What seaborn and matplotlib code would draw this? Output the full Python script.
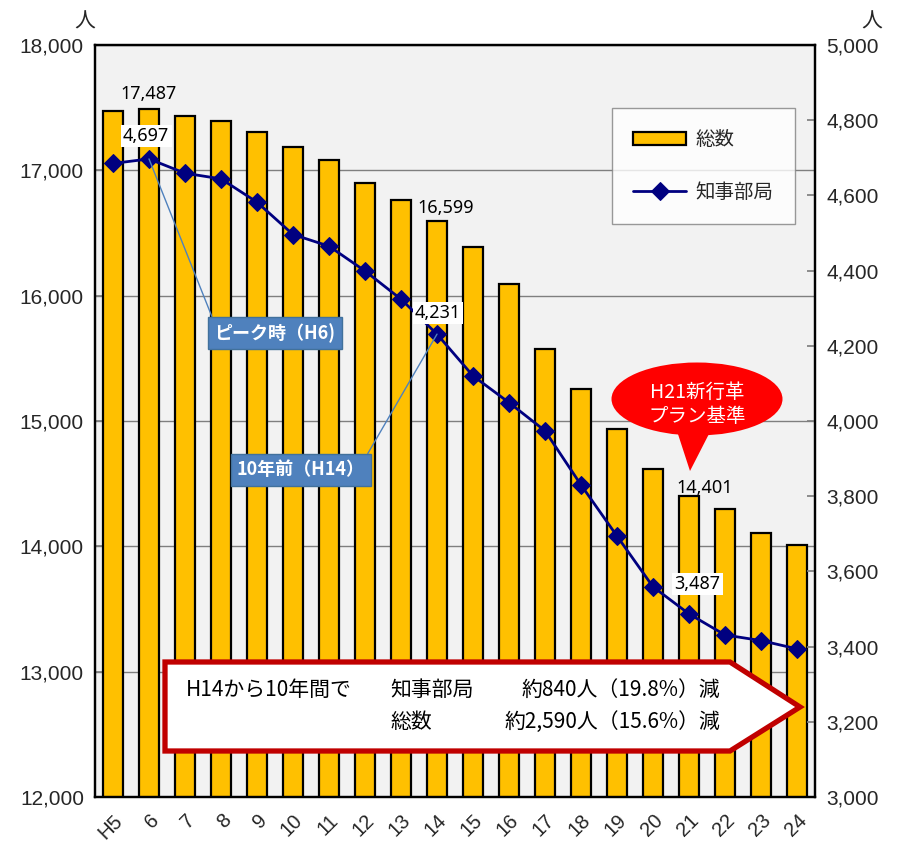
import numpy as np
import pandas as pd
import matplotlib
matplotlib.use("Agg")
import matplotlib.pyplot as plt
import seaborn as sns
from matplotlib.patches import Ellipse, Polygon

# ---- data -------------------------------------------------------------
years = ["H5", "6", "7", "8", "9", "10", "11", "12", "13", "14",
         "15", "16", "17", "18", "19", "20", "21", "22", "23", "24"]
total_staff = [17470, 17487, 17430, 17390, 17305, 17190, 17085, 16898, 16765, 16599,
               16385, 16090, 15575, 15252, 14933, 14615, 14401, 14300, 14105, 14010]
governor_dept = [4685, 4697, 4659, 4644, 4582, 4496, 4465, 4399, 4324, 4231,
                 4120, 4049, 3974, 3830, 3694, 3559, 3487, 3431, 3416, 3394]
left_ticks = [12000, 13000, 14000, 15000, 16000, 17000, 18000]
right_ticks = [3000, 3200, 3400, 3600, 3800, 4000, 4200, 4400, 4600, 4800, 5000]
series_names = ["総数", "知事部局"]

# total labels and dept labels shown on the chart (index into years)
total_label_idx = [1, 9, 16]
dept_label_idx = [1, 9, 16]

df = pd.DataFrame({"year": years, "total": total_staff, "dept": governor_dept})
df["pos"] = np.arange(len(df))

# ---- style ------------------------------------------------------------
sns.set_theme(style="white")
plt.rcParams["font.family"] = ["Noto Sans CJK JP", "DejaVu Sans"]

W, H = 899, 843
fig = plt.figure(figsize=(W / 100, H / 100), dpi=100)
ax = fig.add_axes([95 / W, 1 - 797 / H, 720 / W, 752 / H])
ax.set_facecolor("#F2F2F2")

BAR = "#FFC000"
NAVY = "#000080"

sns.barplot(data=df, x="year", y="total", color=BAR, saturation=1,
            edgecolor="black", linewidth=1.6, width=0.58, ax=ax, zorder=2)
ax.set_ylim(12000, 18000)
ax.set_yticks(left_ticks)
ax.set_yticklabels([f"{v:,}" for v in left_ticks], fontsize=15,
                   fontfamily="Liberation Sans")
ax.yaxis.grid(True, color="#7F7F7F", linewidth=1.0)
ax.set_axisbelow(True)
ax.set_xlabel("")
ax.set_ylabel("")

# x tick labels, rotated
ax.set_xticks(df["pos"])
ax.set_xticklabels(years, rotation=45, ha="right", rotation_mode="anchor",
                   fontsize=14.5, fontfamily="Liberation Sans")
ax.tick_params(axis="x", length=0, pad=10)
ax.set_xticks(np.arange(len(years) + 1) - 0.5, minor=True)
ax.tick_params(axis="x", which="minor", direction="in", length=6,
               color="#7F7F7F", width=1)
ax.tick_params(axis="y", direction="in", length=6, color="#7F7F7F", pad=8)

ax2 = ax.twinx()
sns.lineplot(data=df, x="pos", y="dept", color=NAVY, linewidth=2.0,
             marker="D", markersize=9, markeredgecolor=NAVY, ax=ax2, zorder=3)
ax2.set_ylim(3000, 5000)
ax2.set_yticks(right_ticks)
ax2.set_yticklabels([f"{v:,}" for v in right_ticks], fontsize=15,
                    fontfamily="Liberation Sans")
ax2.tick_params(axis="y", direction="in", length=6, color="#7F7F7F", pad=8)
ax2.set_xlabel("")
ax2.set_ylabel("")
ax.set_xlim(-0.5, len(years) - 0.5)
ax2.set_xlim(-0.5, len(years) - 0.5)

for a in (ax, ax2):
    for s in a.spines.values():
        s.set_color("black")
        s.set_linewidth(1.6)

# unit labels
fig.text(85 / W, 1 - 22 / H, "人", ha="center", va="center", fontsize=15)
fig.text(872 / W, 1 - 22 / H, "人", ha="center", va="center", fontsize=15)

# ---- value labels ----------------------------------------------------
label_font = dict(fontsize=13, fontfamily=["Noto Sans", "DejaVu Sans"], color="black")
total_offsets = {1: (0, 11), 9: (6, 9), 16: (11, 6)}
for i in total_label_idx:
    ax2.annotate(f"{total_staff[i]:,}", xy=(i, total_staff[i]),
                 xycoords=ax.transData, xytext=total_offsets[i],
                 textcoords="offset points", ha="center", va="center",
                 zorder=6, **label_font)
dept_offsets = {1: (-2, 16.5), 9: (0.7, 15), 16: (6, 21.5)}
for i in dept_label_idx:
    ax2.annotate(f"{governor_dept[i]:,}", xy=(i, governor_dept[i]),
                 xytext=dept_offsets[i], textcoords="offset points",
                 ha="center", va="center", zorder=6,
                 bbox=dict(boxstyle="square,pad=0.12", fc="white", ec="none"),
                 **label_font)

# ---- callout tags with leader lines -----------------------------------
tag_style = dict(boxstyle="square,pad=0.35", fc="#4F81BD", ec="#41719C", lw=1)
ax2.annotate("ピーク時（H6)", xy=(1, governor_dept[1]), xytext=(4.5, 4234),
             ha="center", va="center", fontsize=13, fontweight="bold",
             color="white", bbox=tag_style, zorder=6,
             arrowprops=dict(arrowstyle="-", color="#4F81BD", lw=1,
                             relpos=(0, 1), shrinkA=0, shrinkB=0))
ax2.annotate("10年前（H14）", xy=(9, governor_dept[9]), xytext=(5.22, 3870),
             ha="center", va="center", fontsize=13, fontweight="bold",
             color="white", bbox=tag_style, zorder=6,
             arrowprops=dict(arrowstyle="-", color="#4F81BD", lw=1,
                             relpos=(0.97, 0.75), shrinkA=0, shrinkB=0))

# ---- helpers for shapes positioned in figure pixels --------------------
def px(x, y):
    return (x / 100, (H - y) / 100)

tr = fig.dpi_scale_trans

# red speech bubble
bubble = Ellipse(px(697, 399), 171 / 100, 73 / 100, transform=tr,
                 fc="#FF0000", ec="none", zorder=10)
tail = Polygon([px(676, 428), px(712, 428), px(690, 471)], closed=True,
               transform=tr, fc="#FF0000", ec="none", zorder=10)
fig.add_artist(bubble)
fig.add_artist(tail)
fig.text(*px(697, 392), "H21新行革", transform=tr, ha="center", va="center",
         fontsize=14, color="white", zorder=11)
fig.text(*px(697, 417), "プラン基準", transform=tr, ha="center", va="center",
         fontsize=14, color="white", zorder=11)

# summary arrow box
arrow_box = Polygon([px(165, 662), px(730, 662), px(800, 707), px(730, 751),
                     px(165, 751)], closed=True, transform=tr, fc="white",
                    ec="#C00000", lw=3.8, joinstyle="miter", zorder=10)
fig.add_artist(arrow_box)
sum_font = dict(transform=tr, fontsize=15, color="black", va="center", zorder=11)
fig.text(*px(186, 690), "H14から10年間で", ha="left", **sum_font)
fig.text(*px(390, 690), "知事部局", ha="left", **sum_font)
fig.text(*px(720, 690), "約840人（19.8%）減", ha="right", **sum_font)
fig.text(*px(390, 722), "総数", ha="left", **sum_font)
fig.text(*px(720, 722), "約2,590人（15.6%）減", ha="right", **sum_font)

# ---- legend -----------------------------------------------------------
handles = [ax.patches[0], ax2.lines[0]]
leg = ax2.legend(handles, series_names, loc="upper left",
                 bbox_to_anchor=((612 - 95) / 720, (797 - 108) / 752),
                 frameon=True, fancybox=False, fontsize=14,
                 handlelength=2.7, handleheight=0.6, labelspacing=1.6,
                 borderpad=1.1, handletextpad=0.5, borderaxespad=0,
                 numpoints=1)
leg.get_frame().set_edgecolor("#808080")
leg.get_frame().set_linewidth(1)
leg.get_frame().set_facecolor("white")
leg.set_zorder(12)

fig.savefig("out.png", dpi=100)
